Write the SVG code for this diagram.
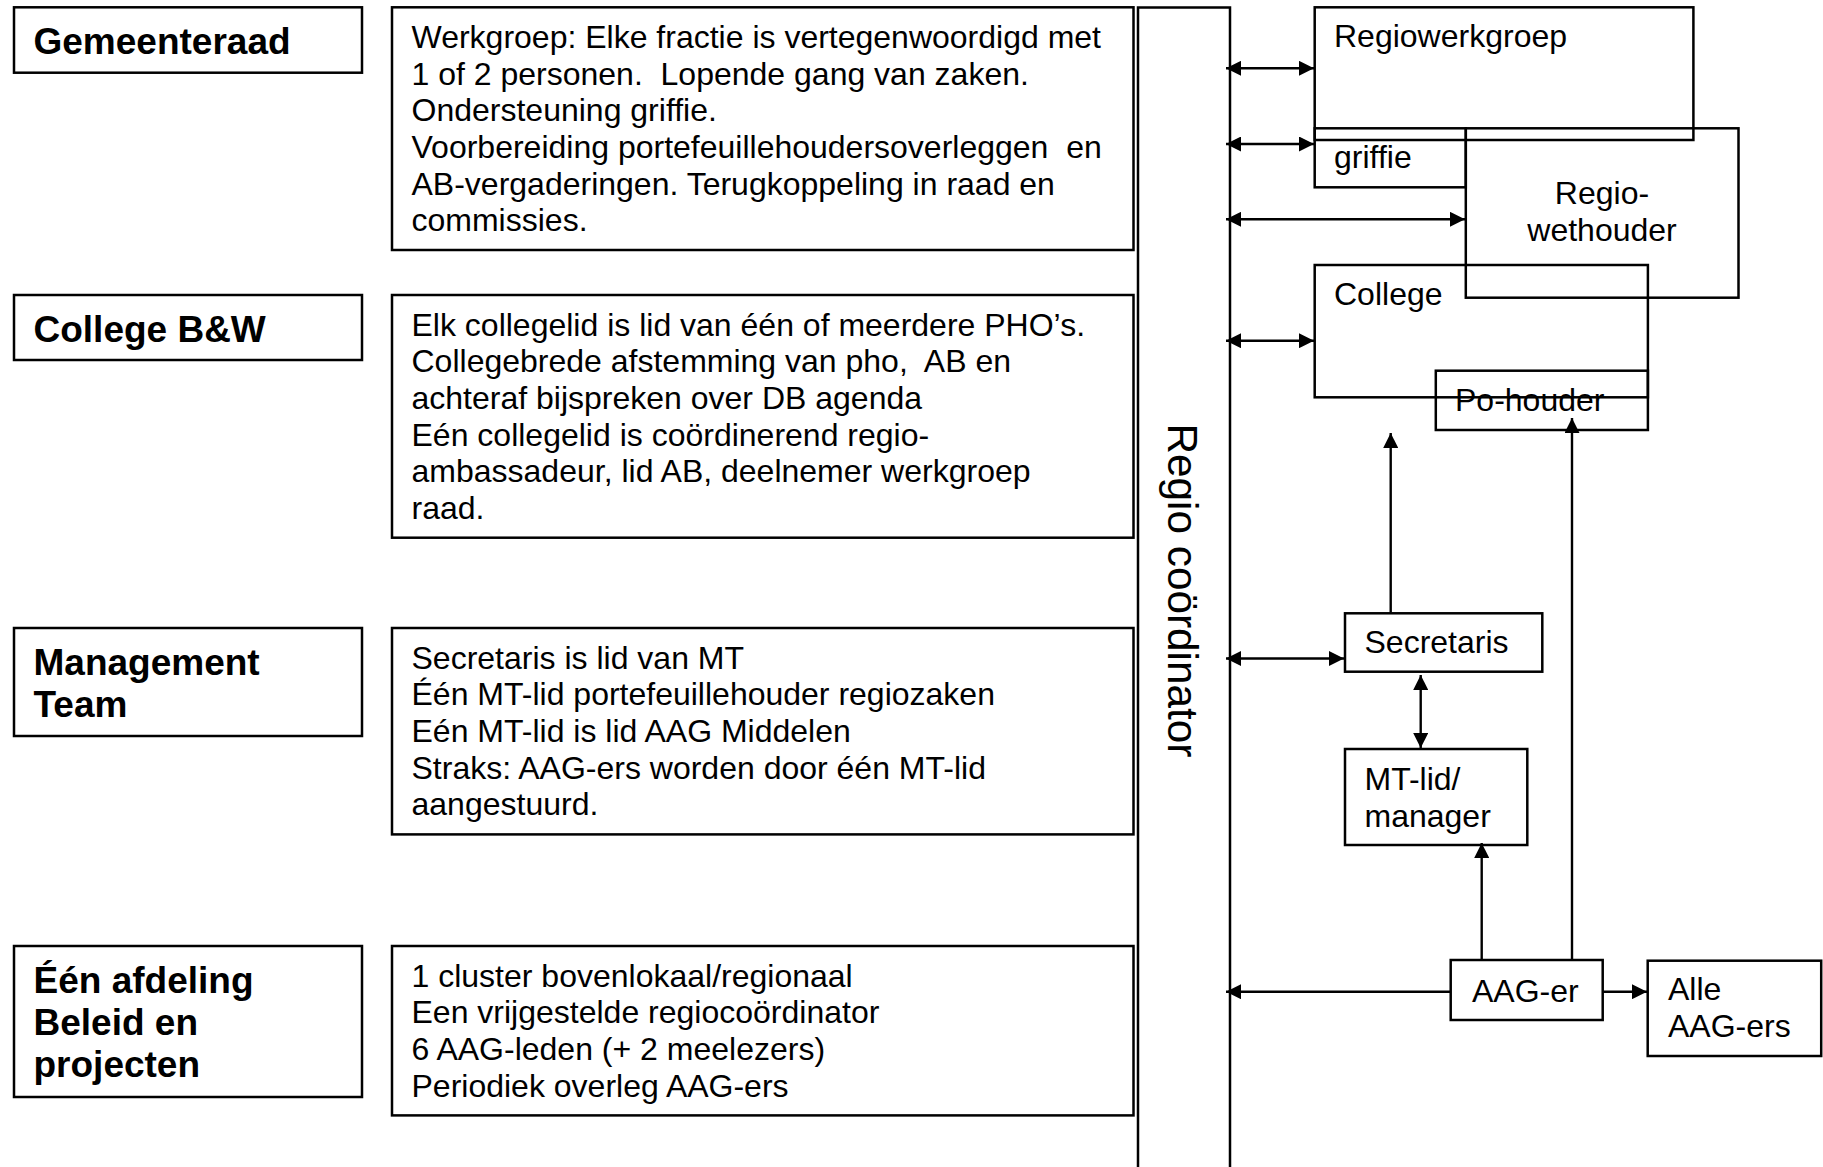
<svg xmlns="http://www.w3.org/2000/svg" width="1823" height="1167" viewBox="0 0 1823 1167">
<defs>
<style>
.box{fill:none;stroke:#000;stroke-width:2.5}
.conn{fill:none;stroke:#000;stroke-width:2.4}
text{font-family:"Liberation Sans",Arial,Helvetica,sans-serif;fill:#000}
.lbl{font-weight:bold;font-size:37px}
.txt{font-size:32px}
.vt{font-size:42.3px}
</style>
<marker id="ah" viewBox="0 0 15 15" refX="15" refY="7.5" markerWidth="15" markerHeight="15" markerUnits="userSpaceOnUse" orient="auto-start-reverse">
<path d="M0,0 L15,7.5 L0,15 z" fill="#000"/>
</marker>
</defs>
<rect width="1823" height="1167" fill="#fff"/>

<g id="gemeenteraad">
<rect class="box" x="14" y="7.3" width="348" height="65.4"/>
<text class="lbl" x="33.5" y="54">Gemeenteraad</text>
</g>
<g id="college-bw">
<rect class="box" x="14" y="295" width="348" height="65"/>
<text class="lbl" x="33.5" y="341.7">College B&amp;W</text>
</g>
<g id="management-team">
<rect class="box" x="14" y="628" width="348" height="108"/>
<text class="lbl" x="33.5" y="674.5">Management</text>
<text class="lbl" x="33.5" y="716.9">Team</text>
</g>
<g id="afdeling">
<rect class="box" x="14" y="946" width="348" height="151"/>
<text class="lbl" x="33.5" y="992.5">Één afdeling</text>
<text class="lbl" x="33.5" y="1034.9">Beleid en</text>
<text class="lbl" x="33.5" y="1077.3">projecten</text>
</g>

<g id="desc-raad">
<rect class="box" x="392" y="7.3" width="741.5" height="242.7"/>
<text class="txt" xml:space="preserve"><tspan x="411.5" y="47.8">Werkgroep: Elke fractie is vertegenwoordigd met</tspan><tspan x="411.5" y="84.5">1 of 2 personen.  Lopende gang van zaken.</tspan><tspan x="411.5" y="121.2">Ondersteuning griffie.</tspan><tspan x="411.5" y="157.9">Voorbereiding portefeuillehoudersoverleggen  en</tspan><tspan x="411.5" y="194.6">AB-vergaderingen. Terugkoppeling in raad en</tspan><tspan x="411.5" y="231.3">commissies.</tspan></text>
</g>
<g id="desc-college">
<rect class="box" x="392" y="295" width="741.5" height="242.7"/>
<text class="txt" xml:space="preserve"><tspan x="411.5" y="335.5">Elk collegelid is lid van één of meerdere PHO’s.</tspan><tspan x="411.5" y="372.2">Collegebrede afstemming van pho,  AB en</tspan><tspan x="411.5" y="408.9">achteraf bijspreken over DB agenda</tspan><tspan x="411.5" y="445.6">Eén collegelid is coördinerend regio-</tspan><tspan x="411.5" y="482.3">ambassadeur, lid AB, deelnemer werkgroep</tspan><tspan x="411.5" y="519">raad.</tspan></text>
</g>
<g id="desc-mt">
<rect class="box" x="392" y="628" width="741.5" height="206.4"/>
<text class="txt"><tspan x="411.5" y="668.5">Secretaris is lid van MT</tspan><tspan x="411.5" y="705.2">Één MT-lid portefeuillehouder regiozaken</tspan><tspan x="411.5" y="741.9">Eén MT-lid is lid AAG Middelen</tspan><tspan x="411.5" y="778.6">Straks: AAG-ers worden door één MT-lid</tspan><tspan x="411.5" y="815.3">aangestuurd.</tspan></text>
</g>
<g id="desc-afdeling">
<rect class="box" x="392" y="946" width="741.5" height="169.4"/>
<text class="txt"><tspan x="411.5" y="986.5">1 cluster bovenlokaal/regionaal</tspan><tspan x="411.5" y="1023.2">Een vrijgestelde regiocoördinator</tspan><tspan x="411.5" y="1059.9">6 AAG-leden (+ 2 meelezers)</tspan><tspan x="411.5" y="1096.6">Periodiek overleg AAG-ers</tspan></text>
</g>

<g id="regio-coordinator">
<path class="box" d="M1138,1170 V7.5 H1230 V1170"/>
<text class="vt" transform="translate(1168.3,423.5) rotate(90)">Regio coördinator</text>
</g>

<g id="regiowerkgroep">
<rect class="box" x="1314.7" y="7.3" width="378.7" height="132.7"/>
<text class="txt" x="1334" y="47">Regiowerkgroep</text>
</g>
<g id="griffie">
<rect class="box" x="1314.7" y="128.3" width="151.1" height="59"/>
<text class="txt" x="1334" y="168">griffie</text>
</g>
<g id="regio-wethouder">
<rect class="box" x="1465.8" y="128.3" width="272.7" height="169.4"/>
<text class="txt" text-anchor="middle" x="1602" y="204">Regio-</text>
<text class="txt" text-anchor="middle" x="1602" y="240.7">wethouder</text>
</g>
<g id="college">
<rect class="box" x="1314.7" y="265" width="333.2" height="132.3"/>
<text class="txt" x="1334" y="305">College</text>
</g>
<g id="po-houder">
<rect class="box" x="1435.8" y="370.7" width="212.1" height="59.3"/>
<text class="txt" x="1455" y="410.7">Po-houder</text>
</g>
<g id="secretaris">
<rect class="box" x="1345" y="613.3" width="197.3" height="58.4"/>
<text class="txt" x="1364.5" y="653.3">Secretaris</text>
</g>
<g id="mt-lid">
<rect class="box" x="1345" y="749" width="182.3" height="96"/>
<text class="txt" x="1364.5" y="790">MT-lid/</text>
<text class="txt" x="1364.5" y="826.7">manager</text>
</g>
<g id="aag-er">
<rect class="box" x="1450.7" y="960" width="152" height="60"/>
<text class="txt" x="1472" y="1001.7">AAG-er</text>
</g>
<g id="alle-aag-ers">
<rect class="box" x="1647.7" y="960.7" width="173.5" height="95.3"/>
<text class="txt" x="1668" y="1000">Alle</text>
<text class="txt" x="1668" y="1036.7">AAG-ers</text>
</g>

<g id="connectors">
<path class="conn" d="M1226,68.3 H1314" marker-start="url(#ah)" marker-end="url(#ah)"/>
<path class="conn" d="M1226,144 H1314" marker-start="url(#ah)" marker-end="url(#ah)"/>
<path class="conn" d="M1226,219.3 H1465" marker-start="url(#ah)" marker-end="url(#ah)"/>
<path class="conn" d="M1226,340.7 H1314" marker-start="url(#ah)" marker-end="url(#ah)"/>
<path class="conn" d="M1226,658.5 H1344" marker-start="url(#ah)" marker-end="url(#ah)"/>
<path class="conn" d="M1390.7,612.7 V433" marker-end="url(#ah)"/>
<path class="conn" d="M1572,960 V418" marker-end="url(#ah)"/>
<path class="conn" d="M1420.7,675 V748" marker-start="url(#ah)" marker-end="url(#ah)"/>
<path class="conn" d="M1481.7,960 V843" marker-end="url(#ah)"/>
<path class="conn" d="M1450.7,991.7 H1226" marker-end="url(#ah)"/>
<path class="conn" d="M1602.7,991.7 H1647" marker-end="url(#ah)"/>
</g>
</svg>
